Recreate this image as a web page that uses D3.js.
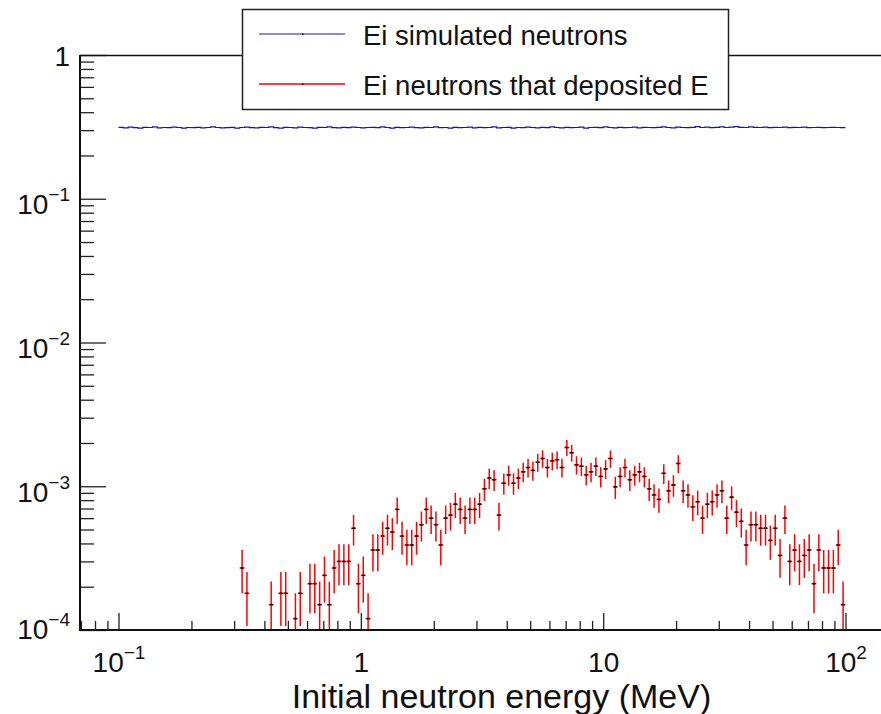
<!DOCTYPE html>
<html>
<head>
<meta charset="utf-8">
<title>Ei neutrons</title>
<script src="https://cdn.jsdelivr.net/npm/d3@7"></script>
<style>
  body { margin: 0; background: #fff; }
  svg { display: block; font-family: "Liberation Sans", Arial, Helvetica, sans-serif; }
</style>
</head>
<body>
<svg id="chart" width="881" height="714"></svg>
<script>
// histogram binning: 150 log bins from 0.1 to 100 MeV
var binLow = 0.1, binHigh = 100, nBins = 150;

// Ei simulated neutrons (blue), per bin
var simValues = [
  0.314,0.311,0.315,0.312,0.310,0.314,0.313,0.316,0.311,0.313,
  0.312,0.315,0.313,0.310,0.313,0.312,0.314,0.311,0.313,0.316,
  0.313,0.311,0.312,0.314,0.310,0.313,0.315,0.312,0.311,0.314,
  0.313,0.316,0.312,0.310,0.314,0.313,0.311,0.315,0.313,0.312,
  0.310,0.314,0.313,0.316,0.312,0.311,0.314,0.312,0.315,0.313,
  0.311,0.313,0.314,0.312,0.316,0.313,0.310,0.314,0.312,0.313,
  0.315,0.312,0.311,0.314,0.313,0.316,0.312,0.313,0.310,0.314,
  0.312,0.313,0.315,0.311,0.314,0.312,0.313,0.316,0.311,0.313,
  0.314,0.310,0.313,0.312,0.315,0.313,0.311,0.314,0.312,0.316,
  0.313,0.311,0.314,0.312,0.313,0.315,0.310,0.313,0.314,0.312,
  0.316,0.313,0.311,0.314,0.312,0.313,0.315,0.311,0.314,0.313,
  0.312,0.314,0.316,0.313,0.311,0.315,0.313,0.312,0.314,0.317,
  0.313,0.315,0.312,0.314,0.316,0.313,0.315,0.318,0.314,0.313,
  0.316,0.314,0.313,0.315,0.312,0.314,0.313,0.315,0.312,0.314,
  0.313,0.315,0.312,0.313,0.314,0.312,0.313,0.314,0.313,0.312
];

// Ei neutrons that deposited E (red): raw counts per bin, and weight per count
var depCounts = [
  0,0,0,0,0,0,0,0,0,0,
  0,0,0,0,0,0,0,0,0,0,
  0,0,0,0,0,9,6,0,0,0,
  0,5,0,6,6,0,4,6,0,7,
  7,5,8,5,9,10,10,10,17,7,
  8,4,12,12,15,17,16,23,15,13,
  13,15,18,23,20,18,13,20,21,25,
  23,20,23,23,25,32,38,37,21,35,
  40,35,38,42,45,43,49,52,45,50,
  51,45,62,57,47,46,40,42,46,39,
  44,52,33,39,45,37,40,42,39,32,
  29,27,41,31,34,48,31,29,24,26,
  20,25,26,29,31,20,28,22,19,13,
  18,18,17,17,14,17,11,20,10,12,
  10,11,12,7,12,9,9,9,13,5
];
var countWeight = 3e-5;

var xTickValues = [0.1, 1, 10, 100];
var xTickLabels = [["10", "\u22121"], ["1", ""], ["10", ""], ["10", "2"]];
var yTickValues = [1e-4, 1e-3, 1e-2, 1e-1, 1];
var yTickLabels = [["10", "\u22124"], ["10", "\u22123"], ["10", "\u22122"], ["10", "\u22121"], ["1", ""]];

var legendNames = ["Ei simulated neutrons", "Ei neutrons that deposited E"];
var legendColors = ["#1414b4", "#ff0000"];
var axisTitle = "Initial neutron energy (MeV)";

// frame
var svg = d3.select("#chart"),
    frame = {left: 80, right: 884, top: 55, bottom: 630};

var x = d3.scaleLog().domain([0.1, 100]).range([118.5, 845.5]);
var y = d3.scaleLog().domain([1e-4, 1]).range([frame.bottom, frame.top]);

svg.append("defs").append("clipPath").attr("id", "clip")
  .append("rect")
  .attr("x", frame.left).attr("y", frame.top)
  .attr("width", frame.right - frame.left).attr("height", frame.bottom - frame.top);

// bins
var logStep = (Math.log10(binHigh) - Math.log10(binLow)) / nBins;
var bins = d3.range(nBins).map(function(i) {
  var lo = Math.pow(10, Math.log10(binLow) + i * logStep),
      hi = Math.pow(10, Math.log10(binLow) + (i + 1) * logStep),
      mid = Math.pow(10, Math.log10(binLow) + (i + 0.5) * logStep);
  return {lo: lo, hi: hi, mid: mid, sim: simValues[i], n: depCounts[i]};
});

var g = svg.append("g").attr("clip-path", "url(#clip)");

// blue step histogram
var stepPts = [];
bins.forEach(function(b) { stepPts.push([b.lo, b.sim]); stepPts.push([b.hi, b.sim]); });
g.append("path")
  .datum(stepPts)
  .attr("fill", "none")
  .attr("stroke", legendColors[0])
  .attr("stroke-width", 1.2)
  .attr("d", d3.line().x(function(d) { return x(d[0]); }).y(function(d) { return y(d[1]); }));

// red points with error bars
var pts = bins.filter(function(b) { return b.n > 0; });
var eb = g.selectAll(".eb").data(pts).enter().append("g").attr("class", "eb");
eb.append("line")
  .attr("x1", function(d) { return x(d.mid); })
  .attr("x2", function(d) { return x(d.mid); })
  .attr("y1", function(d) { return y((d.n + Math.sqrt(d.n)) * countWeight); })
  .attr("y2", function(d) { var lo = (d.n - Math.sqrt(d.n)) * countWeight; return lo > 1e-6 ? y(lo) : frame.bottom + 10; })
  .attr("stroke", legendColors[1]).attr("stroke-width", 1.5);
eb.append("line")
  .attr("x1", function(d) { return x(d.lo); })
  .attr("x2", function(d) { return x(d.hi); })
  .attr("y1", function(d) { return y(d.n * countWeight); })
  .attr("y2", function(d) { return y(d.n * countWeight); })
  .attr("stroke", legendColors[1]).attr("stroke-width", 1.5);
eb.append("rect")
  .attr("x", function(d) { return x(d.mid) - 1.5; })
  .attr("y", function(d) { return y(d.n * countWeight) - 0.75; })
  .attr("width", 3).attr("height", 1.5)
  .attr("fill", "#200");

// minor tick values
var yMinor = [], xMinor = [];
[-4, -3, -2, -1].forEach(function(e) { d3.range(2, 10).forEach(function(k) { yMinor.push(k * Math.pow(10, e)); }); });
[-2, -1, 0, 1, 2].forEach(function(e) { d3.range(2, 10).forEach(function(k) {
  var v = k * Math.pow(10, e);
  if (x(v) > frame.left && x(v) < frame.right) xMinor.push(v);
}); });

function styleTicks(sel) {
  sel.select(".domain").remove();
  sel.selectAll(".tick line").attr("stroke", "#222").attr("stroke-width", 1.3);
}

function setLabel(sel, labels, fs, sfs) {
  sel.selectAll(".tick text").each(function(d, i) {
    var t = d3.select(this), lab = labels[i];
    t.text(null).attr("font-size", fs).attr("fill", "#111");
    t.append("tspan").text(lab[0]);
    if (lab[1]) t.append("tspan").attr("font-size", sfs).attr("dy", -13).text(lab[1]);
  });
}

// y axis
svg.append("g").attr("transform", "translate(" + frame.left + ",0)")
  .call(d3.axisLeft(y).tickValues(yMinor).tickSize(-14).tickFormat(""))
  .call(styleTicks);
var yAx = svg.append("g").attr("transform", "translate(" + frame.left + ",0)")
  .call(d3.axisLeft(y).tickValues(yTickValues).tickSize(-26).tickPadding(10))
  .call(styleTicks);
setLabel(yAx, yTickLabels, 28, 19);
yAx.selectAll(".tick text")
  .attr("dy", 0)
  .attr("text-anchor", "end")
  .attr("y", function(d) { return d === 1 ? 10 : (d === 1e-4 ? 8 : 15); });

// x axis
svg.append("g").attr("transform", "translate(0," + frame.bottom + ")")
  .call(d3.axisBottom(x).tickValues(xMinor).tickSize(-9).tickFormat(""))
  .call(styleTicks);
var xAx = svg.append("g").attr("transform", "translate(0," + frame.bottom + ")")
  .call(d3.axisBottom(x).tickValues(xTickValues).tickSize(-17))
  .call(styleTicks);
setLabel(xAx, xTickLabels, 28, 19);
xAx.selectAll(".tick text").attr("dy", 0).attr("y", 42).attr("text-anchor", "middle");

// frame lines
svg.append("line").attr("x1", frame.left).attr("x2", frame.left).attr("y1", frame.top).attr("y2", frame.bottom + 1)
  .attr("stroke", "#111").attr("stroke-width", 2);
svg.append("line").attr("x1", frame.left - 1).attr("x2", frame.right).attr("y1", frame.bottom).attr("y2", frame.bottom)
  .attr("stroke", "#111").attr("stroke-width", 2);
svg.append("line").attr("x1", frame.left).attr("x2", frame.right).attr("y1", frame.top + 0.5).attr("y2", frame.top + 0.5)
  .attr("stroke", "#111").attr("stroke-width", 1.3);

// axis title
svg.append("text")
  .attr("x", 501.5).attr("y", 708)
  .attr("text-anchor", "middle")
  .attr("font-size", 34).attr("fill", "#111")
  .text(axisTitle);

// legend
var leg = svg.append("g");
leg.append("rect")
  .attr("x", 242.5).attr("y", 9.5).attr("width", 486).attr("height", 100)
  .attr("fill", "#fff").attr("stroke", "#222").attr("stroke-width", 1.5);
var legY = [34, 84];
legendNames.forEach(function(name, i) {
  leg.append("line").attr("x1", 259).attr("x2", 345).attr("y1", legY[i]).attr("y2", legY[i])
    .attr("stroke", legendColors[i]).attr("stroke-width", i === 0 ? 1.2 : 1.5);
  leg.append("rect").attr("x", 302).attr("y", legY[i] - 0.5).attr("width", 1.5).attr("height", 1.5).attr("fill", "#200");
  leg.append("text").attr("x", 363).attr("y", legY[i] + 11)
    .attr("font-size", 27.5).attr("fill", "#111").text(name);
});
</script>
</body>
</html>
